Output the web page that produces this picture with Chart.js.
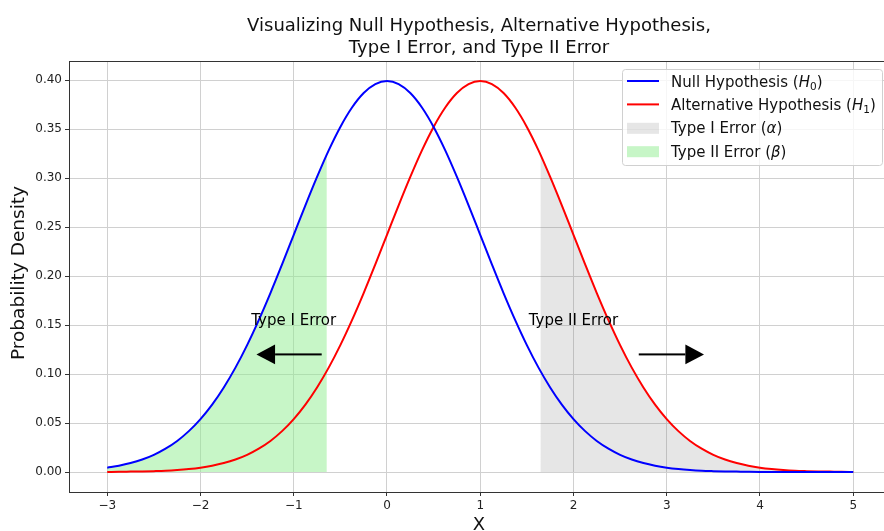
<!DOCTYPE html>
<html>
<head>
<meta charset="utf-8">
<script src="https://cdn.jsdelivr.net/npm/chart.js@4.4.0/dist/chart.umd.min.js"></script>
<style>
  html, body { margin: 0; padding: 0; background: #fff; overflow: hidden; }
  #wrap { width: 884px; height: 531px; position: relative; }
</style>
</head>
<body>
<div id="wrap"><canvas id="chart" width="884" height="531"></canvas></div>
<script>
// values (normal densities, step 0.125)
const xValues = [-3, -2.875, -2.75, -2.625, -2.5, -2.375, -2.25, -2.125, -2, -1.875, -1.75, -1.625, -1.5, -1.375, -1.25, -1.125,
    -1, -0.875, -0.75, -0.625, -0.5, -0.375, -0.25, -0.125, 0, 0.125, 0.25, 0.375, 0.5, 0.625, 0.75, 0.875,
    1, 1.125, 1.25, 1.375, 1.5, 1.625, 1.75, 1.875, 2, 2.125, 2.25, 2.375, 2.5, 2.625, 2.75, 2.875,
    3, 3.125, 3.25, 3.375, 3.5, 3.625, 3.75, 3.875, 4, 4.125, 4.25, 4.375, 4.5, 4.625, 4.75, 4.875, 5];
const nullDensity = [0.0044, 0.0064, 0.0091, 0.0127, 0.0175, 0.0238, 0.0317, 0.0417, 0.0540, 0.0688, 0.0863, 0.1065, 0.1295, 0.1550, 0.1826, 0.2119,
    0.2420, 0.2721, 0.3011, 0.3282, 0.3521, 0.3719, 0.3867, 0.3958, 0.3989, 0.3958, 0.3867, 0.3719, 0.3521, 0.3282, 0.3011, 0.2721,
    0.2420, 0.2119, 0.1826, 0.1550, 0.1295, 0.1065, 0.0863, 0.0688, 0.0540, 0.0417, 0.0317, 0.0238, 0.0175, 0.0127, 0.0091, 0.0064,
    0.0044, 0.0030, 0.0020, 0.0013, 0.0009, 0.0006, 0.0004, 0.0002, 0.0001, 0.0001, 0.0000, 0.0000, 0.0000, 0.0000, 0.0000, 0.0000, 0.0000];
const altDensity = [0.0001, 0.0002, 0.0004, 0.0006, 0.0009, 0.0013, 0.0020, 0.0030, 0.0044, 0.0064, 0.0091, 0.0127, 0.0175, 0.0238, 0.0317, 0.0417,
    0.0540, 0.0688, 0.0863, 0.1065, 0.1295, 0.1550, 0.1826, 0.2119, 0.2420, 0.2721, 0.3011, 0.3282, 0.3521, 0.3719, 0.3867, 0.3958,
    0.3989, 0.3958, 0.3867, 0.3719, 0.3521, 0.3282, 0.3011, 0.2721, 0.2420, 0.2119, 0.1826, 0.1550, 0.1295, 0.1065, 0.0863, 0.0688,
    0.0540, 0.0417, 0.0317, 0.0238, 0.0175, 0.0127, 0.0091, 0.0064, 0.0044, 0.0030, 0.0020, 0.0013, 0.0009, 0.0006, 0.0004, 0.0002, 0.0001];

// edges of the shaded areas
const betaEdge = { x: -0.645, y: 0.324 };
const alphaEdge = { x: 1.645, y: 0.324 };

const xTicks = [-3, -2, -1, 0, 1, 2, 3, 4, 5];
const yTicks = [0, 0.05, 0.10, 0.15, 0.20, 0.25, 0.30, 0.35, 0.40];

const titleLines = ['Visualizing Null Hypothesis, Alternative Hypothesis,', 'Type I Error, and Type II Error'];
const xTitle = 'X';
const yTitle = 'Probability Density';

// annotations: label text + arrow (data coordinates)
const notes = [
    { text: 'Type I Error', x: -1, y: 0.15, arrowFrom: -0.7, arrowTo: -1.4, arrowY: 0.12 },
    { text: 'Type II Error', x: 2, y: 0.15, arrowFrom: 2.7, arrowTo: 3.4, arrowY: 0.12 }
];

const legendItems = [
    { kind: 'line', color: '#0000ff', parts: [['Null Hypothesis (', 'n'], ['H', 'i'], ['0', 's'], [')', 'n']] },
    { kind: 'line', color: '#ff0000', parts: [['Alternative Hypothesis (', 'n'], ['H', 'i'], ['1', 's'], [')', 'n']] },
    { kind: 'box', color: 'rgba(128,128,128,0.2)', parts: [['Type I Error (', 'n'], ['α', 'i'], [')', 'n']] },
    { kind: 'box', color: 'rgba(144,238,144,0.5)', parts: [['Type II Error (', 'n'], ['β', 'i'], [')', 'n']] }
];

const FONT = 'DejaVu Sans';

const toPoints = (xs, ys) => xs.map((x, i) => ({ x: x, y: ys[i] }));
const nullPts = toPoints(xValues, nullDensity);
const altPts = toPoints(xValues, altDensity);
const betaPts = nullPts.filter(p => p.x < betaEdge.x).concat([betaEdge]);
const alphaPts = [alphaEdge].concat(altPts.filter(p => p.x > alphaEdge.x));

function drawParts(ctx, parts, x, y, size) {
    let cx = x;
    parts.forEach(([t, st]) => {
        let fs = size, dy = 0, style = '';
        if (st === 'i') style = 'italic ';
        if (st === 's') { fs = size * 0.7; dy = size * 0.22; }
        ctx.font = style + fs + 'px "' + FONT + '"';
        ctx.fillText(t, cx, y + dy);
        cx += ctx.measureText(t).width;
    });
}

const decor = {
    id: 'decor',
    afterDraw(chart) {
        const { ctx, chartArea: a, scales: { x, y } } = chart;
        ctx.save();
        // top spine
        ctx.strokeStyle = '#333';
        ctx.lineWidth = 1;
        ctx.beginPath();
        ctx.moveTo(a.left, a.top + 0.5);
        ctx.lineTo(a.right, a.top + 0.5);
        ctx.stroke();

        // title
        ctx.fillStyle = '#111';
        ctx.textAlign = 'center';
        ctx.textBaseline = 'alphabetic';
        ctx.font = '18px "' + FONT + '"';
        ctx.fillText(titleLines[0], 479, 31);
        ctx.fillText(titleLines[1], 479, 53);

        // axis titles
        ctx.font = '18px "' + FONT + '"';
        ctx.fillText(xTitle, 479, 530);
        ctx.save();
        ctx.translate(24, 273);
        ctx.rotate(-Math.PI / 2);
        ctx.font = '18.5px "' + FONT + '"';
        ctx.fillText(yTitle, 0, 0);
        ctx.restore();

        // annotations
        notes.forEach(n => {
            ctx.fillStyle = '#000';
            ctx.font = '15px "' + FONT + '"';
            ctx.textAlign = 'center';
            ctx.fillText(n.text, x.getPixelForValue(n.x), y.getPixelForValue(n.y));
            const x0 = x.getPixelForValue(n.arrowFrom);
            const x1 = x.getPixelForValue(n.arrowTo);
            const yy = y.getPixelForValue(n.arrowY);
            const dir = Math.sign(x1 - x0);
            const headLen = Math.abs(x.getPixelForValue(0.2) - x.getPixelForValue(0));
            const halfW = Math.abs(y.getPixelForValue(0.01) - y.getPixelForValue(0));
            const xb = x1 - dir * headLen;
            ctx.fillRect(Math.min(x0, xb), yy - 1, Math.abs(xb - x0), 2);
            ctx.beginPath();
            ctx.moveTo(x1, yy);
            ctx.lineTo(xb, yy - halfW);
            ctx.lineTo(xb, yy + halfW);
            ctx.closePath();
            ctx.fill();
        });

        // legend
        const lx = 622, ly = 69, lw = 262, lh = 96;
        ctx.fillStyle = 'rgba(255,255,255,0.8)';
        ctx.strokeStyle = '#d0d0d0';
        ctx.lineWidth = 1;
        ctx.beginPath();
        ctx.roundRect(lx + 0.5, ly + 0.5, lw - 2, lh, 3);
        ctx.fill();
        ctx.stroke();
        ctx.textAlign = 'left';
        legendItems.forEach((it, i) => {
            const cy = 81 + i * 23.4;
            if (it.kind === 'line') {
                ctx.strokeStyle = it.color;
                ctx.lineWidth = 2;
                ctx.beginPath();
                ctx.moveTo(627, cy);
                ctx.lineTo(659, cy);
                ctx.stroke();
            } else {
                ctx.fillStyle = it.color;
                ctx.fillRect(627, cy - 5, 32, 11);
            }
            ctx.fillStyle = '#111';
            drawParts(ctx, it.parts, 671, cy + 5.5, 15);
        });
        ctx.restore();
    }
};

const axisCommon = {
    border: { display: true, color: '#333', width: 1 },
    grid: { color: '#d0d0d0', lineWidth: 1, tickLength: 4, tickColor: '#333' },
    ticks: { color: '#222', font: { family: FONT, size: 12 }, padding: 3 }
};

const lineStyle = { pointRadius: 0, cubicInterpolationMode: 'monotone' };

new Chart(document.getElementById('chart'), {
    type: 'line',
    data: {
        datasets: [
            { label: 'Null Hypothesis', data: nullPts, borderColor: '#0000ff', borderWidth: 2, fill: false, order: 1, ...lineStyle },
            { label: 'Alternative Hypothesis', data: altPts, borderColor: '#ff0000', borderWidth: 2, fill: false, order: 1, ...lineStyle },
            { label: 'Type I Error', data: alphaPts, borderWidth: 0, borderColor: 'rgba(0,0,0,0)', backgroundColor: 'rgba(128,128,128,0.2)', fill: 'origin', order: 2, ...lineStyle },
            { label: 'Type II Error', data: betaPts, borderWidth: 0, borderColor: 'rgba(0,0,0,0)', backgroundColor: 'rgba(144,238,144,0.5)', fill: 'origin', order: 2, ...lineStyle }
        ]
    },
    options: {
        responsive: false,
        animation: false,
        events: [],
        layout: { padding: { top: 61, right: 0, left: 0, bottom: 0 } },
        plugins: { legend: { display: false }, tooltip: { enabled: false }, title: { display: false } },
        scales: {
            x: {
                type: 'linear', min: -3.41, max: 5.33,
                ...axisCommon,
                ticks: { ...axisCommon.ticks, callback: v => String(v).replace('-', '\u2212') },
                afterBuildTicks: s => { s.ticks = xTicks.map(v => ({ value: v })); },
                afterFit: s => { s.height = 39; }
            },
            y: {
                type: 'linear', min: -0.0204, max: 0.4194,
                ...axisCommon,
                ticks: { ...axisCommon.ticks, callback: v => v.toFixed(2) },
                afterBuildTicks: s => { s.ticks = yTicks.map(v => ({ value: v })); },
                afterFit: s => { s.width = 69; }
            }
        }
    },
    plugins: [decor]
});
</script>
</body>
</html>
